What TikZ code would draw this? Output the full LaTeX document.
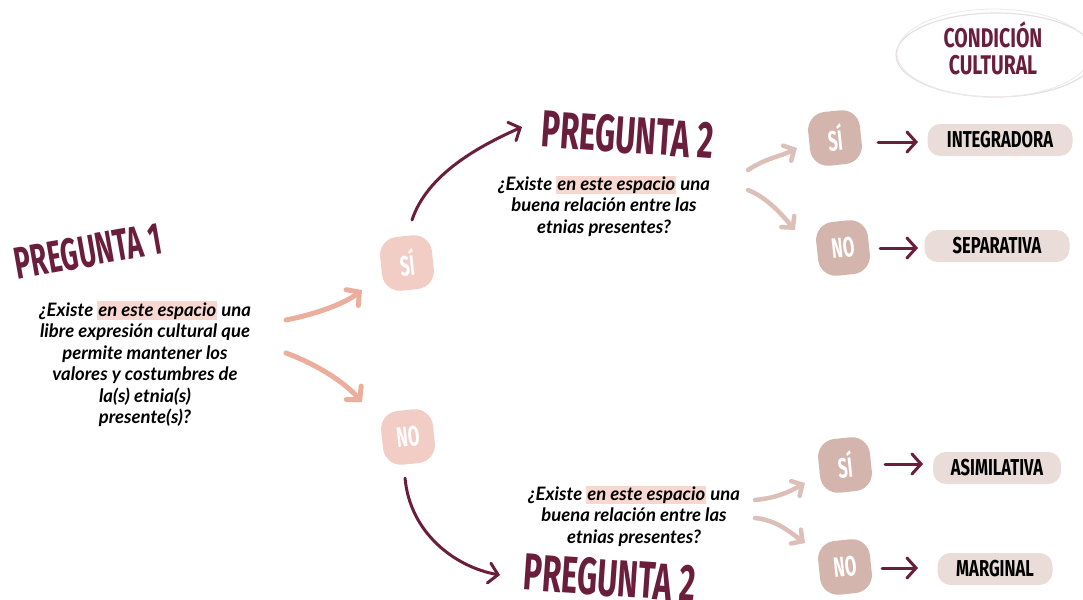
\documentclass[tikz,border=0pt]{standalone}
\usepackage{fontspec}
\usetikzlibrary{arrows.meta,calc}
\setmainfont{Lato}
\newfontfamily\tfont{Fira Sans}[FakeStretch=0.6]
\newfontfamily\rfont{Fira Sans}[FakeStretch=0.72]
\newfontfamily\qfont{Lato}
\definecolor{maroon}{RGB}{106,30,59}
\definecolor{pinkblob}{RGB}{242,205,198}
\definecolor{mauveblob}{RGB}{212,181,174}
\definecolor{boxfill}{RGB}{234,220,216}
\definecolor{pinkarrow}{RGB}{236,174,156}
\definecolor{mauvearrow}{RGB}{220,192,184}
\definecolor{hl}{RGB}{247,215,208}
\definecolor{ringgray}{RGB}{230,224,224}
\newcommand\hlx[1]{\begingroup\setlength\fboxsep{1pt}\colorbox{hl}{#1}\endgroup}
\tikzset{
  title/.style={text=maroon, inner sep=0pt},
  question/.style={align=center, text=black, inner sep=0pt,
    font=\qfont\bfseries\itshape\fontsize{18.5}{21.5}\selectfont},
  blob/.style={minimum width=52pt, minimum height=54pt, rounded corners=18pt,
    text=white, inner sep=0pt, font=\tfont\bfseries\fontsize{28}{28}\selectfont},
  result/.style={fill=boxfill, rounded corners=13pt, minimum height=32pt,
    text=black, inner sep=0pt, font=\rfont\bfseries\fontsize{23}{23}\selectfont},
  parrow/.style={draw=pinkarrow, line width=5pt, line cap=round,
    -{Straight Barb[length=9pt,width=20pt,line cap=round]}},
  marrow/.style={draw=mauvearrow, line width=4.5pt, line cap=round,
    -{Straight Barb[length=8pt,width=17pt,line cap=round]}},
  wine/.style={draw=maroon, line width=3pt, line cap=round,
    -{Straight Barb[length=9pt,width=20pt,line cap=round]}},
}
\begin{document}
\begin{tikzpicture}[x=1pt,y=-1pt]
\useasboundingbox (0,0) rectangle (1083,599);
\clip (0,0) rectangle (1083,599);
\fill[white] (0,0) rectangle (1083,599);

% condicion cultural ring
\draw[ringgray, line width=1.2pt] (996,55) ellipse [x radius=100, y radius=42];
\draw[ringgray!70, line width=0.8pt] (994,53) ellipse [x radius=97, y radius=44];
\node[title, align=center, font=\rfont\bfseries\fontsize{27}{27}\selectfont] (cond) at (993,48) {CONDICIÓN\\CULTURAL};

% pregunta 1
\node[title, rotate=10, font=\tfont\bfseries\fontsize{45}{45}\selectfont] (t1) at (88,251) {PREGUNTA 1};
\node[question] (q1) at (145,364) {¿Existe \hlx{en este espacio} una\\libre expresión cultural que\\permite mantener los\\valores y costumbres de\\la(s) etnia(s)\\presente(s)?};

\node[blob, fill=pinkblob, rotate=6] (si1) at (407,263) {SÍ};
\node[blob, fill=pinkblob, rotate=6] (no1) at (408,437) {NO};

% upper branch
\node[title, rotate=-4, font=\tfont\bfseries\fontsize{52}{52}\selectfont] (t2a) at (628,135) {PREGUNTA 2};
\node[question] (q2a) at (604,206) {¿Existe \hlx{en este espacio} una\\buena relación entre las\\etnias presentes?};
\node[blob, fill=mauveblob, rotate=6] (si2a) at (835,138) {SÍ};
\node[blob, fill=mauveblob, rotate=6] (no2a) at (843,248) {NO};
\node[result, minimum width=145pt] (r1) at (1000,140) {INTEGRADORA};
\node[result, minimum width=145pt] (r2) at (997,246) {SEPARATIVA};

% lower branch
\node[question] (q2b) at (634,516) {¿Existe \hlx{en este espacio} una\\buena relación entre las\\etnias presentes?};
\node[title, rotate=-4, font=\tfont\bfseries\fontsize{52}{52}\selectfont] (t2b) at (610,578) {PREGUNTA 2};
\node[blob, fill=mauveblob, rotate=6] (si2b) at (845,465) {SÍ};
\node[blob, fill=mauveblob, rotate=6] (no2b) at (845,567) {NO};
\node[result, minimum width=128pt] (r3) at (997,468) {ASIMILATIVA};
\node[result, minimum width=115pt] (r4) at (995,569) {MARGINAL};

% connectors
\draw[parrow] ([shift={(141,-44)}]q1.center) .. controls +(30,-6) and +(-18,14) .. ([shift={(-45,27)}]si1.center);
\draw[parrow] ([shift={(141,-11)}]q1.center) .. controls +(32,12) and +(-18,-20) .. ([shift={(-46,-35)}]no1.center);
\draw[wine] ([shift={(5,-43)}]si1.center) .. controls +(15,-45) and +(-45,20) .. ([shift={(-106,-8)}]t2a.center);
\draw[wine] ([shift={(-3,41)}]no1.center) .. controls +(5,55) and +(-45,-8) .. ([shift={(-110,-3)}]t2b.center);

\draw[marrow] ([shift={(144,-36)}]q2a.center) .. controls +(18,-12) and +(-15,8) .. ([shift={(-38,10)}]si2a.center);
\draw[marrow] ([shift={(144,-16)}]q2a.center) .. controls +(20,8) and +(-12,-14) .. ([shift={(-48,-18)}]no2a.center);
\draw[marrow] ([shift={(121,-16)}]q2b.center) .. controls +(22,-2) and +(-14,8) .. ([shift={(-40,18)}]si2b.center);
\draw[marrow] ([shift={(121,2)}]q2b.center) .. controls +(22,2) and +(-14,-10) .. ([shift={(-40,-24)}]no2b.center);

\draw[wine] ([shift={(43,4)}]si2a.center) -- ([shift={(-82,2)}]r1.center);
\draw[wine] ([shift={(37,0)}]no2a.center) -- ([shift={(-79,2)}]r2.center);
\draw[wine] ([shift={(40,-1)}]si2b.center) -- ([shift={(-74,-4)}]r3.center);
\draw[wine] ([shift={(37,1)}]no2b.center) -- ([shift={(-77,-1)}]r4.center);
\end{tikzpicture}
\end{document}
